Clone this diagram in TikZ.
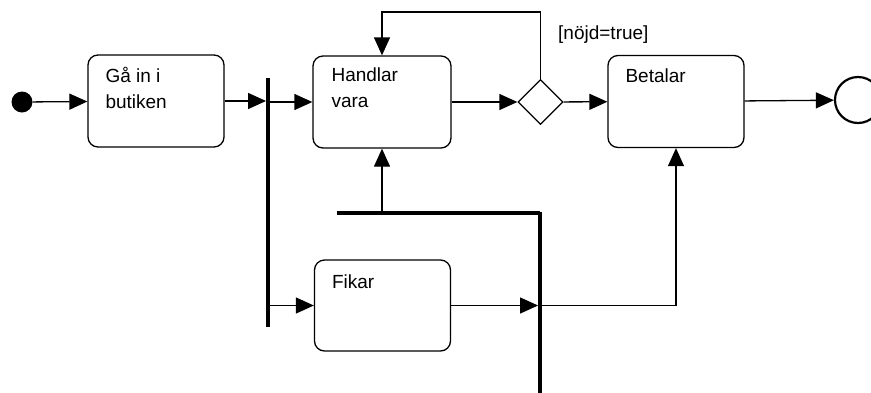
\documentclass[tikz,border=0pt]{standalone}
\usepackage{fontspec}
\setmainfont{Liberation Sans}
\usepackage{tikz}
\usetikzlibrary{calc,positioning,arrows.meta,shapes.geometric}

\tikzstyle{activity} = [rectangle, rounded corners=10pt, draw=black, line width=1.3pt, minimum width=136pt, minimum height=92pt, inner sep=0pt]
\tikzstyle{caption}  = [anchor=north west, align=left, inner sep=0pt, font=\fontsize{19}{26}\selectfont]
\tikzstyle{bar}      = [rectangle, fill=black, inner sep=0pt]
\tikzstyle{arrow}    = [line width=1.3pt, -{Triangle[length=18pt,width=16pt]}]

\begin{document}
\begin{tikzpicture}[x=1pt,y=-1pt]
    \useasboundingbox (0,0) rectangle (871,392);

    % states and bars
    \node[circle, fill=black, minimum size=21pt, inner sep=0pt] (start) at (22,102) {};
    \node[activity] (gain) at (156,101) {};
    \node[bar, minimum width=3.5pt, minimum height=249pt] (fork) at (268,202.5) {};
    \node[activity, minimum width=138pt] (handlar) at (382,102) {};
    \node[diamond, draw, line width=1.3pt, minimum width=45pt, minimum height=45pt, inner sep=0pt] (dec) at (540.5,102) {};
    \node[activity] (betalar) at (676,101.5) {};
    \node[circle, draw, line width=2.2pt, minimum size=46pt, inner sep=0pt] (final) at (858,100) {};
    \node[activity, minimum height=91pt] (fikar) at (382.5,305.5) {};
    \node[bar, minimum width=203pt, minimum height=3.5pt] (join) at (438.5,213) {};
    \node[bar, minimum width=3.5pt, minimum height=181pt] (merge) at (540,302.5) {};

    % texts
    \node[caption] (gain-txt) at ($(gain.north west)+(18,13)$) {Gå in i\\butiken};
    \node[caption] (handlar-txt) at ($(handlar.north west)+(19,12)$) {Handlar\\vara};
    \node[caption] (betalar-txt) at ($(betalar.north west)+(18,14)$) {Betalar};
    \node[caption] (fikar-txt) at ($(fikar.north west)+(18,15)$) {Fikar};
    \node[caption, anchor=base west] (guard) at (558,39) {[nöjd=true]};

    % flows
    \draw[arrow] (start) -- (gain);
    \draw[arrow] (gain) -- (gain -| fork.west);
    \draw[arrow] (handlar -| fork) -- (handlar);
    \draw[arrow] (fikar -| fork) -- (fikar);
    \draw[arrow] (handlar) -- (dec);
    \draw[arrow] (dec.north) -- ++(0,-67) -| (handlar.north);
    \draw[arrow] (dec) -- (betalar);
    \draw[arrow] (betalar) -- (final);
    \draw[arrow] (handlar |- join) -- (handlar.south);
    \draw[arrow] (fikar) -- (fikar -| merge.west);
    \draw[arrow] (fikar -| merge) -| (betalar.south);
\end{tikzpicture}
\end{document}
